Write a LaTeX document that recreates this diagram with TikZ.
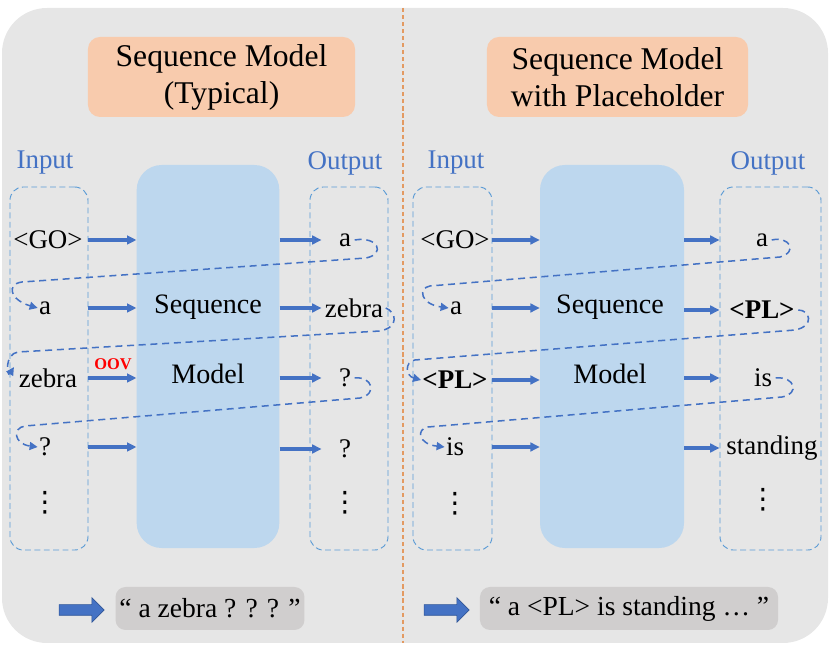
\documentclass[tikz,border=0pt]{standalone}
\usepackage{fontspec}
\setmainfont{Liberation Serif}
\newfontfamily\dotsfont{DejaVu Sans}
\usepackage{tikz}
\usetikzlibrary{arrows.meta,shapes.arrows}

\definecolor{panelgray}{HTML}{E6E6E6}
\definecolor{peach}{HTML}{F8CBAD}
\definecolor{modelblue}{HTML}{BDD7EE}
\definecolor{boxblue}{HTML}{5B9BD5}
\definecolor{flowblue}{HTML}{4472C4}
\definecolor{rimblue}{HTML}{2F5597}
\definecolor{resgray}{HTML}{D0CECE}
\definecolor{splitorange}{HTML}{E39A62}

\begin{document}
\begin{tikzpicture}[
    x=0.03cm, y=-0.03cm,
    >={Triangle[length=2.8mm,width=2.6mm]},
    title/.style={fill=peach, rounded corners=0.36cm, align=center,
      minimum height=2.4cm, font=\fontsize{27}{31.6}\selectfont},
    lab/.style={text=flowblue, font=\fontsize{23}{26}\selectfont},
    word/.style={inner sep=1pt, font=\fontsize{23}{26}\selectfont},
    vdot/.style={inner sep=0pt, font=\dotsfont\fontsize{24}{26}\selectfont},
    seq/.style={fill=modelblue, rounded corners=0.75cm,
      minimum width=4.28cm, minimum height=11.49cm},
    col/.style={draw=boxblue, dashed, dash pattern=on 5pt off 3pt,
      line width=0.8pt, rounded corners=0.4cm, minimum height=10.89cm},
    flow/.style={->, line width=2.6pt, flowblue},
    fb/.style={->, >={Triangle[length=2.4mm,width=2.4mm]}, dashed,
      dash pattern=on 6pt off 4pt, line width=1.3pt, flowblue},
    res/.style={fill=resgray, rounded corners=0.3cm, minimum height=1.29cm,
      font=\fontsize{23.5}{26}\selectfont},
    bigarrow/.style={single arrow, fill=flowblue, draw=rimblue, line width=0.5pt,
      inner sep=0.15cm, single arrow head extend=0.21cm,
      minimum height=1.35cm, text width=0pt},
  ]
  \useasboundingbox (0,0) rectangle (830,657);
  \fill[panelgray, rounded corners=1.35cm] (2,8) rectangle (828,643);
  \draw[splitorange, dashed, dash pattern=on 3.5pt off 2.5pt, line width=0.9pt]
    (403,8) -- (403,643);

  %% ---- left: typical sequence model --------------------------------
  \node[title, minimum width=8.01cm] (ttl) at (221.5,77)
    {Sequence Model\\(Typical)};
  \node[lab] (lin)  at (45,163)  {Input};
  \node[lab] (lout) at (345,163) {Output};
  \node[col, minimum width=2.34cm] (lcin)  at (49,368.5)  {};
  \node[seq] (lmod) at (208,356.5) {};
  \node[col, minimum width=2.34cm] (lcout) at (349,368.5) {};
  \node[font=\fontsize{24}{28}\selectfont] (lseq) at (208,307) {Sequence};
  \node[font=\fontsize{24}{28}\selectfont] (lmdl) at (208,374) {Model};

  \node[word] (li1) at (48,240) {<GO>};
  \node[word] (li2) at (45,308) {a};
  \node[word] (li3) at (48,378) {zebra};
  \node[word] (li4) at (45,447) {?};
  \node[vdot] (li5) at (45,503) {⋮};
  \node[word] (lo1) at (345,240) {a};
  \node[word] (lo2) at (354,308) {zebra};
  \node[word] (lo3) at (345,378) {?};
  \node[word] (lo4) at (345,449) {?};
  \node[vdot] (lo5) at (345,503) {⋮};
  \node[text=red, font=\bfseries\fontsize{14}{16}\selectfont] (oov) at (113,364) {OOV};

  \foreach \r in {1,...,4}{
    \draw[flow] (lcin.east |- li\r) -- (lmod.west |- li\r);
    \draw[flow] (lmod.east |- lo\r) -- ([xshift=0.36cm]lcout.west |- lo\r);
  }

  \draw[fb] ([xshift=2pt]lo1.east) .. controls (378,236) and (386,254) .. (366,258)
    -- (22,282) .. controls (6,284) and (10,300) .. (li2.west);
  \draw[fb] ([xshift=1pt]lo2.east) .. controls (396,312) and (400,327) .. (380,331)
    -- (18,352) .. controls (4,354) and (7,378) .. ([xshift=-3pt]li3.north west);
  \draw[fb] ([xshift=2pt]lo3.east) .. controls (372,376) and (378,394) .. (360,398)
    -- (25,426) .. controls (12,428) and (14,444) .. (li4.west);

  \node[bigarrow] (larr) at (79,610) {};
  \node[res, minimum width=5.58cm] (lres) at (210,608.5) {“ a zebra ? ? ? ”};

  %% ---- right: sequence model with placeholder ----------------------
  \node[title, minimum width=7.83cm] (ttr) at (617.5,77)
    {Sequence Model\\with Placeholder};
  \node[lab] (rin)  at (456,163) {Input};
  \node[lab] (rout) at (768,163) {Output};
  \node[col, minimum width=2.37cm] (rcin)  at (452.5,368.5) {};
  \node[seq, minimum width=4.32cm] (rmod) at (612,356.5) {};
  \node[col, minimum width=3.03cm] (rcout) at (770.5,368.5) {};
  \node[font=\fontsize{24}{28}\selectfont] (rseq) at (610,307) {Sequence};
  \node[font=\fontsize{24}{28}\selectfont] (rmdl) at (610,374) {Model};

  \node[word] (ri1) at (455,240) {<GO>};
  \node[word] (ri2) at (456,308) {a};
  \node[word] (ri3) at (455,380) {\textbf{<PL>}};
  \node[word] (ri4) at (455,447) {is};
  \node[vdot] (ri5) at (455,504) {⋮};
  \node[word] (ro1) at (762,240) {a};
  \node[word] (ro2) at (762,310) {\textbf{<PL>}};
  \node[word] (ro3) at (763,378) {is};
  \node[word] (ro4) at (772,448) {standing};
  \node[vdot] (ro5) at (763,500) {⋮};

  \foreach \r in {1,...,4}{
    \draw[flow] (rcin.east |- ri\r) -- (rmod.west |- ri\r);
    \draw[flow] (rmod.east |- ro\r) -- (rcout.west |- ro\r);
  }

  \draw[fb] ([xshift=2pt]ro1.east) .. controls (790,236) and (798,252) .. (780,257)
    -- (430,286) .. controls (418,288) and (420,304) .. (ri2.west);
  \draw[fb] ([xshift=2pt]ro2.east) .. controls (810,310) and (815,326) .. (795,330)
    -- (415,360) .. controls (404,362) and (406,376) .. (ri3.west);
  \draw[fb] ([xshift=2pt]ro3.east) .. controls (795,376) and (800,394) .. (782,397)
    -- (428,427) .. controls (416,429) and (418,444) .. (ri4.west);

  \node[bigarrow] (rarr) at (444,610) {};
  \node[res, minimum width=8.94cm] (rres) at (629,608.5) {“ a <PL> is standing … ”};
\end{tikzpicture}
\end{document}
